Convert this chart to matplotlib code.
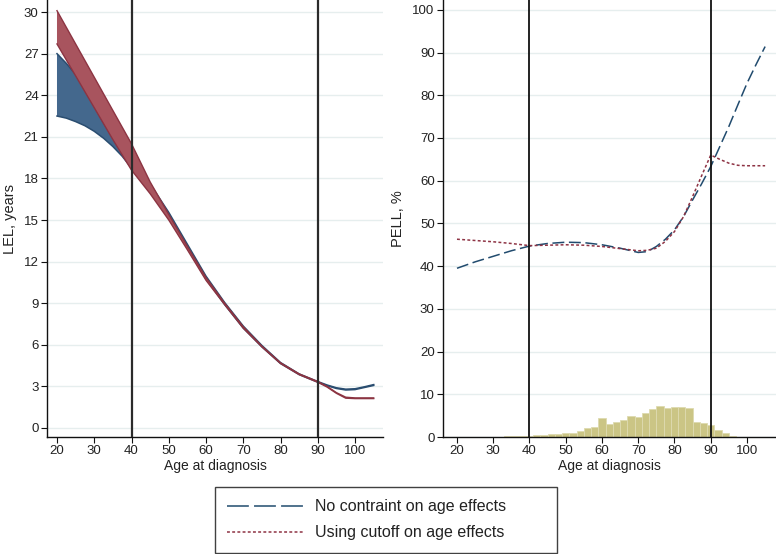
import matplotlib
matplotlib.use("Agg")
import matplotlib.pyplot as plt
from matplotlib.lines import Line2D
import numpy as np

plt.rcParams['font.family'] = ['Liberation Sans', 'DejaVu Sans']

# ---------------- data ----------------
ages_lel = [20, 22.5, 25, 27.5, 30, 32.5, 35, 37.5, 40, 45, 50, 55, 60, 65, 70, 75,
            80, 85, 90, 92.5, 95, 97.5, 100, 102.5, 105]
# No constraint on age effects (band)
nc_upper = [27.0, 26.3, 25.5, 24.4, 23.2, 22.0, 20.9, 19.8, 18.85, 17.6, 15.55, 13.25,
            10.95, 9.05, 7.35, 5.95, 4.72, 3.9, 3.35, 3.1, 2.9, 2.8, 2.83, 2.97, 3.13]
nc_lower = [22.5, 22.35, 22.1, 21.8, 21.4, 20.9, 20.3, 19.6, 18.75, 17.35, 15.3, 13.0,
            10.75, 8.9, 7.2, 5.85, 4.65, 3.85, 3.3, 3.05, 2.85, 2.74, 2.77, 2.92, 3.07]
# Using cutoff on age effects (band)
co_upper = [30.1, 28.9, 27.7, 26.5, 25.3, 24.1, 22.9, 21.7, 20.5, 17.75, 15.4, 13.1,
            10.85, 9.0, 7.3, 5.9, 4.7, 3.9, 3.35, 3.0, 2.55, 2.22, 2.17, 2.17, 2.17]
co_lower = [27.7, 26.55, 25.4, 24.25, 23.1, 21.95, 20.8, 19.7, 18.6, 16.9, 15.0, 12.85,
            10.65, 8.9, 7.2, 5.85, 4.65, 3.85, 3.3, 2.95, 2.5, 2.15, 2.12, 2.12, 2.12]

ages_pell = [20, 25, 30, 35, 40, 45, 50, 55, 60, 65, 70, 72.5, 75, 77.5, 80, 82.5, 85,
             87.5, 90, 92.5, 95, 97.5, 100, 102.5, 105]
pell_nc = [39.5, 41.0, 42.3, 43.6, 44.7, 45.3, 45.6, 45.5, 45.0, 44.2, 43.2, 43.4, 44.6,
           46.3, 48.5, 51.6, 55.5, 59.3, 63.3, 68.0, 72.7, 77.8, 82.8, 87.2, 91.4]
pell_co = [46.3, 46.0, 45.7, 45.3, 44.8, 44.9, 45.0, 44.9, 44.6, 44.1, 43.6, 43.7, 44.2,
           45.8, 48.1, 51.6, 56.3, 61.2, 66.0, 65.0, 64.1, 63.6, 63.5, 63.5, 63.5]

hist_centers = [20, 22, 24, 26, 28, 30, 32, 34, 36, 38, 40, 42, 44, 46, 48, 50, 52, 54,
                56, 58, 60, 62, 64, 66, 68, 70, 72, 74, 76, 78, 80, 82, 84, 86, 88, 90,
                92, 94, 96, 98, 100]
hist_heights = [0.1, 0.1, 0.1, 0.1, 0.1, 0.1, 0.1, 0.15, 0.15, 0.2, 0.3, 0.4, 0.55, 0.7,
                0.8, 0.9, 1.0, 1.3, 2.0, 2.3, 4.4, 3.0, 3.4, 4.0, 4.8, 4.7, 5.7, 6.6,
                7.3, 6.9, 7.0, 7.0, 6.9, 3.5, 3.2, 2.8, 1.7, 0.9, 0.35, 0.1, 0.05]

cutoffs = [40, 90]
xticks = [20, 30, 40, 50, 60, 70, 80, 90, 100]
lel_yticks = [0, 3, 6, 9, 12, 15, 18, 21, 24, 27, 30]
pell_yticks = [0, 10, 20, 30, 40, 50, 60, 70, 80, 90, 100]
labels = ["No contraint on age effects", "Using cutoff on age effects"]

# ---------------- style ----------------
BLUE_FILL = '#44688d'
BLUE_EDGE = '#2a4d70'
RED_FILL = '#a8545e'
RED_EDGE = '#8c3442'
BLUE_LINE = '#214b6e'
RED_LINE = '#8e3344'
GRID = '#e6eeee'
HIST = '#cbc585'
TXT = '#222222'
FS = 9.5

fig = plt.figure(figsize=(7.76, 5.54), dpi=100)
W, H = 776, 554

def add_ax(x0, x1, ytop, ybot):
    return fig.add_axes([x0 / W, (H - ybot) / H, (x1 - x0) / W, (ybot - ytop) / H])

axL = add_ax(47, 383, 0, 437)
axR = add_ax(443, 776, 0, 437)

for ax in (axL, axR):
    for s in ('top', 'right'):
        ax.spines[s].set_visible(False)
    for s in ('left', 'bottom'):
        ax.spines[s].set_color('#111111')
        ax.spines[s].set_linewidth(1.0)
    ax.tick_params(axis='both', direction='out', length=4, width=0.8, colors='#111111',
                   labelsize=FS, labelcolor=TXT, pad=2)
    ax.set_xticks(xticks)
    ax.grid(axis='y', color=GRID, linewidth=1.0)
    ax.set_axisbelow(True)
    ax.set_xlabel("Age at diagnosis", fontsize=10, color=TXT, labelpad=1)

# ---- left panel ----
axL.fill_between(ages_lel, nc_lower, nc_upper, facecolor=BLUE_FILL, edgecolor='none', zorder=2)
axL.plot(ages_lel, nc_upper, color=BLUE_EDGE, lw=1.1, zorder=2.1)
axL.plot(ages_lel, nc_lower, color=BLUE_EDGE, lw=1.1, zorder=2.1)
axL.fill_between(ages_lel, co_lower, co_upper, facecolor=RED_FILL, edgecolor='none', zorder=3)
axL.plot(ages_lel, co_upper, color=RED_EDGE, lw=1.0, zorder=3.1)
axL.plot(ages_lel, co_lower, color=RED_EDGE, lw=1.0, zorder=3.1)
for c in cutoffs:
    axL.axvline(c, color='#2b2b2b', lw=1.6, zorder=4)
axL.set_xlim(17.32, 107.5)
axL.set_ylim(-0.65, 30.87)
axL.set_yticks(lel_yticks)
axL.set_ylabel("LEL, years", fontsize=10.5, color=TXT, labelpad=5)

# ---- right panel ----
axR.bar(hist_centers, hist_heights, width=2.0, color=HIST, edgecolor='#dedab0',
        linewidth=0.6, zorder=2)
axR.plot(ages_pell, pell_nc, color=BLUE_LINE, lw=1.1, dashes=(7.8, 3.0), zorder=3)
axR.plot(ages_pell, pell_co, color=RED_LINE, lw=1.1, dashes=(1.9, 1.5), zorder=3)
for c in cutoffs:
    axR.axvline(c, color='#111111', lw=1.3, zorder=4)
axR.set_xlim(16.14, 108.0)
axR.set_ylim(0, 102.3)
axR.set_yticks(pell_yticks)
axR.set_ylabel("PELL, %", fontsize=10.5, color=TXT, labelpad=5)

# ---- legend ----
handles = [Line2D([], [], color=BLUE_LINE, lw=1.1, dashes=(14.3, 3.4)),
           Line2D([], [], color=RED_LINE, lw=1.1, dashes=(1.9, 1.5))]
leg = fig.legend(handles, labels, loc='upper left',
                 bbox_to_anchor=(215 / W, (H - 487) / H, 342 / W, 0.0),
                 mode='expand', borderaxespad=0, fontsize=11.5, frameon=True,
                 fancybox=False, handlelength=4.7, handletextpad=0.8,
                 labelspacing=0.68, borderpad=0.78)
leg.get_frame().set_edgecolor('#111111')
leg.get_frame().set_linewidth(1.0)
for t in leg.get_texts():
    t.set_color(TXT)

fig.savefig("out.png", dpi=100)
